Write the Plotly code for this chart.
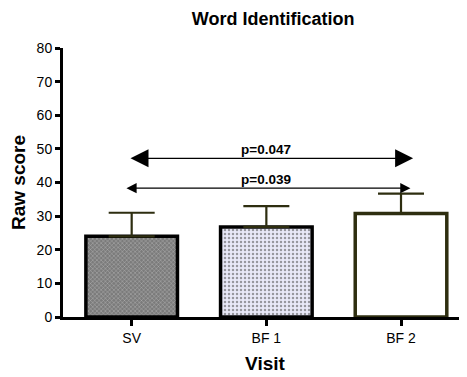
import plotly.graph_objects as go

categories = ["SV", "BF1", "BF2"]
tick_labels = ["SV", "BF 1", "BF 2"]
means = [24.0, 26.8, 30.8]
errors_up = [7.0, 6.2, 5.9]
p_labels = ["p=0.047", "p=0.039"]
p_levels = [47.2, 38.3]

xpos = list(range(len(categories)))

fig = go.Figure()
fig.add_trace(go.Bar(
    x=xpos, y=means, width=0.68,
    marker=dict(
        color=["#7b7b7b", "#e9e9f8", "#ffffff"],
        line=dict(color=["#000000", "#000000", "#2e2e10"], width=3.5),
        pattern=dict(shape=["x", ".", ""], size=[3, 4, 4], solidity=[0.25, 0.3, 0.2],
                     fgcolor=["#5e5e5e", "#2a2a3a", "#ffffff"], fillmode="overlay"),
    ),
    error_y=dict(type="data", symmetric=False, array=errors_up, arrayminus=[0, 0, 0],
                 color="#2e2e10", thickness=2.2, width=23),
    showlegend=False,
))

# significance arrows
arrow_specs = [(-0.02, 2.09, 2, 3.0), (-0.05, 2.07, 2, 1.7)]
for (x0, x1, head, size), lvl, lab in zip(arrow_specs, p_levels, p_labels):
    fig.add_annotation(x=x1, y=lvl, ax=x0, ay=lvl, xref="x", yref="y", axref="x", ayref="y",
                       showarrow=True, arrowhead=head, startarrowhead=head, arrowside="end+start",
                       arrowsize=size, startarrowsize=size, arrowwidth=1.2, arrowcolor="#000000", text="")
    fig.add_annotation(x=1.0, y=lvl, xref="x", yref="y", text="<b>" + lab + "</b>", showarrow=False,
                       yshift=9, font=dict(family="Arial", size=13.5, color="#000000"))

fig.update_layout(
    width=459, height=369,
    margin=dict(l=55, r=0, t=40, b=60, autoexpand=False),
    paper_bgcolor="white", plot_bgcolor="white",
    title=dict(text="<b>Word Identification</b>", x=0.5775, xanchor="center", y=0.972, yanchor="middle",
               font=dict(family="Arial", size=18, color="#000000")),
    font=dict(family="Arial", color="#000000"),
)
fig.update_xaxes(range=[-0.51, 2.49], tickvals=xpos, ticktext=tick_labels,
                 showline=True, linewidth=3, linecolor="#000000", ticks="outside", ticklen=6,
                 tickwidth=3, tickcolor="#000000", showgrid=False, zeroline=False, automargin=False,
                 tickfont=dict(family="Arial", size=14, color="#000000"),
                 title=dict(text="<b>Visit</b>", font=dict(family="Arial", size=19, color="#000000"), standoff=12))
fig.update_yaxes(range=[0, 80], tickvals=[0, 10, 20, 30, 40, 50, 60, 70, 80],
                 showline=True, linewidth=3, linecolor="#000000", ticks="outside", ticklen=5,
                 tickwidth=3, tickcolor="#000000", showgrid=False, zeroline=False, automargin=False,
                 tickfont=dict(family="Arial", size=14, color="#000000"),
                 title=dict(text="<b>Raw score</b>", font=dict(family="Arial", size=19, color="#000000"), standoff=8))

fig.write_html("out.html")
